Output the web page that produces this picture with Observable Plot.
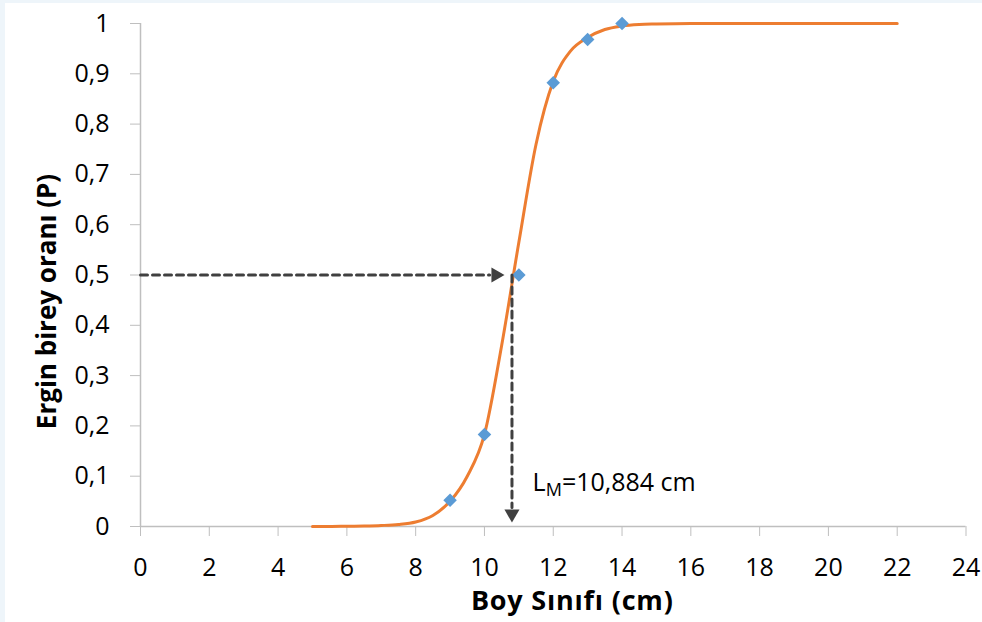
<!DOCTYPE html>
<html><head><meta charset="utf-8">
<script src="https://cdn.jsdelivr.net/npm/d3@7"></script>
<script src="https://cdn.jsdelivr.net/npm/@observablehq/plot@0.6"></script>
<style>
body{margin:0;background:#fff;overflow:hidden;font-family:"Open Sans",sans-serif}
#stripT{position:absolute;left:0;top:0;width:982px;height:3px;background:#eef5fa}
#stripL{position:absolute;left:0;top:0;width:5px;height:622px;background:#eef5fa}
#chart{position:absolute;left:0;top:0}
</style></head><body>
<div id="stripT"></div><div id="stripL"></div><div id="chart"></div>
<script>
// Fitted maturity curve
const curveX = [5,5.5,6,6.5,7,7.5,8,8.5,9,9.5,10,10.5,11,11.5,12,12.5,13,13.5,14,14.5,15,16,17,18,19,20,21,22];
const curveP = [0,0,0.0005,0.001,0.002,0.004,0.009,0.022,0.05,0.1,0.183,0.36,0.565,0.76,0.885,0.945,0.972,0.988,0.995,0.998,0.999,1,1,1,1,1,1,1];
// Observed proportions
const sampleX = [9,10,11,12,13,14];
const sampleP = [0.052,0.183,0.5,0.882,0.968,1.0];
// Ticks
const xTicks = [0,2,4,6,8,10,12,14,16,18,20,22,24];
const yTicks = [0,0.1,0.2,0.3,0.4,0.5,0.6,0.7,0.8,0.9,1];
// Annotation values (L50)
const guideP = [0.5];
const guideStartX = [0];
const guideHeadX = [10.58];
const guideLineEndX = [10.15];
const lmX = [10.8];
const lmHeadP = [0.008];
const lmLineEndP = [0.038];
const lmLabelX = [11.4];
const lmLabelP = [0.087];
const lmLabel = ["LM=10,884 cm"];
const xTitle = ["Boy Sınıfı (cm)"];
const yTitle = ["Ergin birey oranı (P)"];

const curve = curveX.map((x,i)=>({x, p: curveP[i]}));
const samples = sampleX.map((x,i)=>({x, p: sampleP[i]}));
const hLine = [{x: guideStartX[0], p: guideP[0]}, {x: guideLineEndX[0], p: guideP[0]}];
const vLine = [{x: lmX[0], p: guideP[0]}, {x: lmX[0], p: lmLineEndP[0]}];
const fmt = d => String(d).replace(".", ",");
const dark = "#404040";
const gray = "#bfbfbf";

const chart = Plot.plot({
  width: 982, height: 622,
  marginLeft: 140, marginRight: 16.5, marginTop: 23, marginBottom: 96,
  style: {background: "transparent", fontFamily: "'Open Sans', sans-serif", color: "#000"},
  x: {domain: [0, 24]},
  y: {domain: [0, 1]},
  marks: [
    Plot.ruleY([0], {stroke: gray, strokeWidth: 1.5}),
    Plot.ruleX([0], {stroke: gray, strokeWidth: 1.5}),
    Plot.axisX(xTicks, {tickSize: 10, tickPadding: 22, fontSize: 25, stroke: gray, fill: "#000", label: null, tickFormat: fmt}),
    Plot.axisY(yTicks, {tickSize: 10, tickPadding: 21, fontSize: 25, stroke: gray, fill: "#000", label: null, tickFormat: fmt}),
    Plot.line(curve, {x: "x", y: "p", stroke: "#ed7d31", strokeWidth: 3, curve: "monotone-x"}),
    Plot.dot(samples, {x: "x", y: "p", symbol: "square", r: 5.4, rotate: 45, fill: "#5b9bd5", stroke: "none"}),
    Plot.line(hLine, {x: "x", y: "p", stroke: dark, strokeWidth: 3, strokeDasharray: "7,5"}),
    Plot.line(vLine, {x: "x", y: "p", stroke: dark, strokeWidth: 3, strokeDasharray: "7,5"}),
    Plot.dot([{x: guideHeadX[0], p: guideP[0]}], {x: "x", y: "p", symbol: "triangle", r: 5.6, rotate: 90, dx: -8.6, fill: dark, stroke: "none"}),
    Plot.dot([{x: lmX[0], p: lmHeadP[0]}], {x: "x", y: "p", symbol: "triangle", r: 5.6, rotate: 180, dy: -8.6, fill: dark, stroke: "none"}),
    Plot.text(lmLabel, {x: () => lmLabelX[0], y: () => lmLabelP[0], text: d => d, textAnchor: "start", fontSize: 25, fill: "#000"}),
    Plot.text(xTitle, {frameAnchor: "bottom", textAnchor: "middle", text: d => d, dy: 83, dx: 19, fontSize: 27, fontWeight: "bold", fill: "#000"}),
    Plot.text(yTitle, {frameAnchor: "left", textAnchor: "middle", text: d => d, rotate: -90, dx: -93, dy: 26.5, fontSize: 26, fontWeight: "bold", fill: "#000"})
  ]
});
document.getElementById("chart").appendChild(chart);
d3.select(chart).selectAll("text").each(function(){
  if (this.textContent === lmLabel[0]) {
    // subscript M
    this.textContent = "";
    const t = d3.select(this);
    t.append("tspan").text("L");
    t.append("tspan").attr("dy", 5).attr("font-size", 18).text("M");
    t.append("tspan").attr("dy", -5).text("=10,884 cm");
  } else if (this.textContent === xTitle[0]) {
    this.style.letterSpacing = "0.8px";
  }
});
</script>
</body></html>
